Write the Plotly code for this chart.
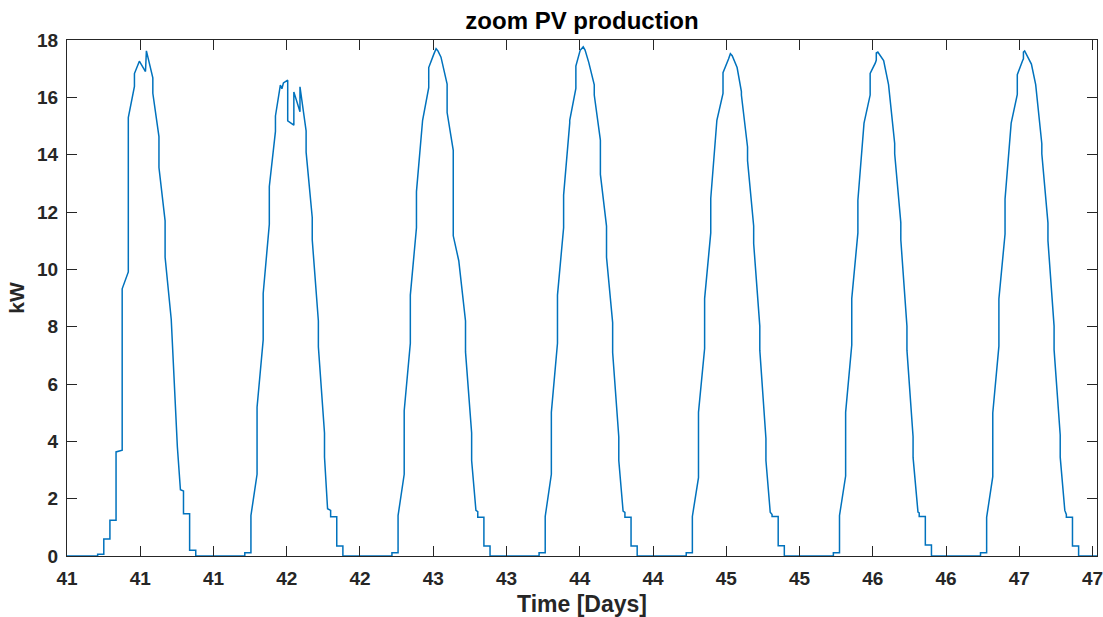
import plotly.graph_objects as go

# ---------------- data (hour of day, kW) for each day ----------------
day_start = [40.5, 41.5, 42.5, 43.5, 44.5, 45.5, 46.5]  # axis value at 00:00 of each day

h_d41 = [0, 5, 5, 6, 6, 7, 7, 8, 8, 9, 9, 10, 10, 11, 11, 11.8, 12.8, 12.95, 14, 14, 15, 15,
         16, 16, 17, 18, 18.5, 19, 19, 20, 20, 21, 21]
kw_d41 = [0, 0, 0.06, 0.06, 0.59, 0.59, 1.25, 1.25, 3.63, 3.69, 9.32, 9.91, 15.29, 16.38, 16.83,
          17.26, 16.9, 17.62, 16.68, 16.14, 14.63, 13.55, 11.69, 10.42, 8.26, 3.81, 2.31, 2.27,
          1.47, 1.47, 0.20, 0.20, 0]

h_d42 = [5, 5, 6, 6, 7, 7, 8, 8, 9, 9, 10, 10, 10.8, 11.05, 11.3, 12, 12, 13, 13, 14, 14, 15, 15,
         16, 16, 17, 17, 18, 18, 18.5, 19, 19, 20, 20, 21, 21]
kw_d42 = [0, 0.11, 0.11, 1.41, 2.85, 5.19, 7.54, 9.16, 11.57, 12.89, 14.81, 15.35, 16.43, 16.3,
          16.5, 16.6, 15.18, 15.03, 16.19, 15.5, 16.37, 14.83, 14.09, 11.81, 11.03, 8.2, 7.3,
          4.29, 3.45, 1.65, 1.59, 1.37, 1.37, 0.35, 0.35, 0]

h_d43 = [5, 5, 6, 6, 7, 7, 8, 8, 9, 9, 10, 10, 11, 11, 11.8, 12.2, 12.5, 13, 14, 14, 15, 15, 15.9,
         17, 17, 18, 18, 18.7, 19, 19, 20, 20, 21, 21]
kw_d43 = [0, 0.11, 0.11, 1.41, 2.85, 5.07, 7.42, 9.10, 11.45, 12.71, 15.11, 15.2, 16.34, 17.04,
          17.49, 17.70, 17.62, 17.40, 16.46, 15.47, 14.15, 11.17, 10.30, 8.20, 7.12, 4.29, 3.33,
          1.59, 1.55, 1.35, 1.35, 0.35, 0.35, 0]

h_d44 = [5, 5, 6, 6, 7, 7, 8, 8, 9, 9, 10, 10, 11, 11, 11.7, 12.2, 12.5, 13.1, 14, 14, 15, 15, 16,
         16, 17, 17, 18, 18, 18.7, 19, 19, 20, 20, 21, 21]
kw_d44 = [0, 0.11, 0.11, 1.38, 2.85, 5.01, 7.42, 9.10, 11.45, 12.59, 15.11, 15.2, 16.31, 17.09,
          17.64, 17.76, 17.65, 17.22, 16.44, 16.08, 14.51, 13.31, 11.51, 10.42, 8.14, 7.1, 4.15,
          3.33, 1.57, 1.52, 1.35, 1.35, 0.35, 0.35, 0]

h_d45 = [5, 5, 6, 6, 7, 7, 8, 8, 9, 9, 10, 10, 11, 11, 11.9, 12.2, 12.5, 13.3, 14, 14, 15, 15, 16,
         16, 17, 17, 18, 18, 18.7, 19, 19, 20, 20, 21, 21]
kw_d45 = [0, 0.11, 0.11, 1.38, 2.73, 5.01, 7.24, 8.98, 11.27, 12.47, 15.11, 15.2, 16.14, 16.86,
          17.34, 17.52, 17.45, 17.04, 16.2, 16.08, 14.27, 13.79, 11.51, 10.9, 8.02, 7.18, 4.10,
          3.33, 1.53, 1.45, 1.38, 1.38, 0.36, 0.36, 0]

h_d46 = [5, 5, 6, 6, 7, 7, 8, 8, 9, 9, 10, 10, 11, 11, 11.85, 12, 12, 12.25, 13.2, 14, 15, 15, 16,
         16, 17, 17, 18, 18, 18.8, 19, 19, 20, 20, 21, 21]
kw_d46 = [0, 0.11, 0.11, 1.41, 2.79, 5.01, 7.36, 8.98, 11.27, 12.41, 14.99, 15.1, 16.08, 16.83,
          17.2, 17.3, 17.55, 17.58, 17.28, 16.44, 14.39, 14.03, 11.63, 11.03, 8.02, 7.18, 4.16,
          3.44, 1.53, 1.5, 1.38, 1.38, 0.38, 0.38, 0]

h_d47 = [5, 5, 6, 6, 7, 7, 8, 8, 9, 9, 10, 10, 11, 11, 11.9, 12, 12, 12.2, 13.3, 14, 15, 15, 16,
         16, 17, 17, 18, 18, 18.75, 19, 19, 20, 20, 21, 21, 24]
kw_d47 = [0, 0.11, 0.11, 1.35, 2.77, 4.99, 7.32, 8.97, 11.23, 12.45, 14.97, 15.1, 16.1, 16.79,
          17.3, 17.34, 17.58, 17.62, 17.16, 16.44, 14.38, 14.03, 11.62, 11.0, 8.02, 7.2, 4.22,
          3.45, 1.59, 1.45, 1.35, 1.35, 0.35, 0.35, 0, 0]

tick_vals = [40.500, 40.998, 41.496, 41.994, 42.491, 42.989, 43.487, 43.985,
             44.483, 44.981, 45.479, 45.976, 46.474, 46.972, 47.470]
tick_text = ["41", "41", "41", "42", "42", "43", "43", "44", "44", "45", "45", "46", "46", "47", "47"]
y_ticks = [0, 2, 4, 6, 8, 10, 12, 14, 16, 18]

hours = [h_d41, h_d42, h_d43, h_d44, h_d45, h_d46, h_d47]
powers = [kw_d41, kw_d42, kw_d43, kw_d44, kw_d45, kw_d46, kw_d47]

xs, ys = [], []
for start, hh, pp in zip(day_start, hours, powers):
    assert len(hh) == len(pp)
    xs += [start + h / 24.0 for h in hh]
    ys += pp

FONT = "Liberation Sans, Arial, Helvetica, sans-serif"
AX = "#262626"

fig = go.Figure(go.Scatter(x=xs, y=ys, mode="lines",
                           line=dict(color="#0072BD", width=1.5),
                           hoverinfo="skip"))

fig.update_layout(
    width=1103, height=617,
    margin=dict(l=67, r=6, t=40, b=61),
    plot_bgcolor="white", paper_bgcolor="white",
    showlegend=False,
    title=dict(text="zoom PV production", x=0.5, xref="paper", xanchor="center",
               y=1 - 21 / 617, yref="container", yanchor="middle",
               font=dict(family=FONT, size=24, color="black", weight="bold")),
)

fig.update_xaxes(range=[40.5, 47.5], tickmode="array", tickvals=tick_vals, ticktext=tick_text,
                 showline=True, linecolor=AX, linewidth=1, mirror="allticks",
                 ticks="inside", ticklen=10, tickcolor=AX, tickwidth=1,
                 showgrid=False, zeroline=False, automargin=False,
                 ticklabelstandoff=5, ticklabeloverflow="allow",
                 tickfont=dict(family=FONT, size=19, color=AX, weight="bold"),
                 title=dict(text="Time [Days]", standoff=10,
                            font=dict(family=FONT, size=23, color=AX, weight="bold")))

fig.update_yaxes(range=[0, 18], tickmode="array", tickvals=y_ticks,
                 showline=True, linecolor=AX, linewidth=1, mirror="allticks",
                 ticks="inside", ticklen=10, tickcolor=AX, tickwidth=1,
                 showgrid=False, zeroline=False, automargin=False,
                 ticklabelstandoff=4,
                 tickfont=dict(family=FONT, size=19, color=AX, weight="bold"),
                 title=dict(text="kW", standoff=6,
                            font=dict(family=FONT, size=21, color=AX, weight="bold")))

fig.write_html("out.html")
